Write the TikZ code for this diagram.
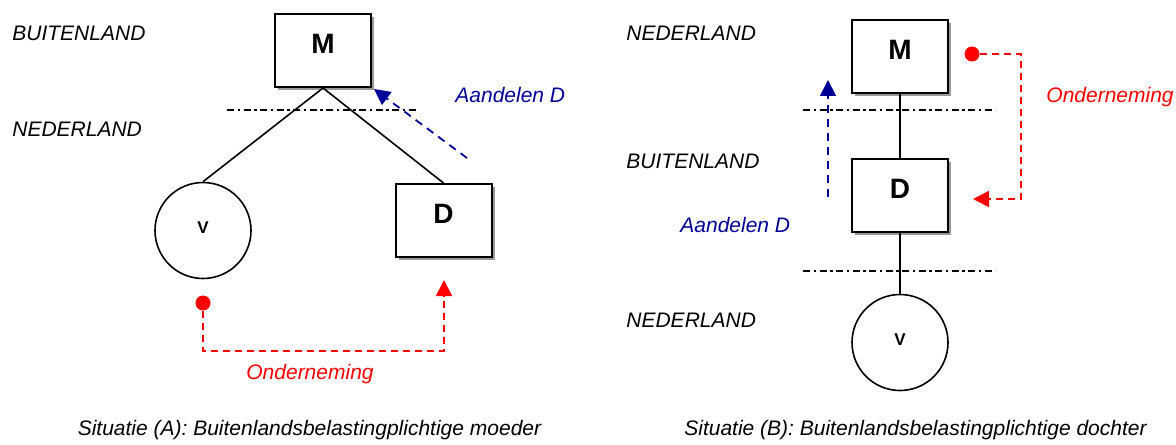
\documentclass[tikz,border=0pt]{standalone}
\usepackage{fontspec}
\setmainfont{Liberation Sans}
\usetikzlibrary{arrows.meta,shadows}
\definecolor{sharenavy}{RGB}{0,0,150}
\tikzset{
    entity/.style={draw, line width=1pt, fill=white, minimum width=48pt, inner sep=0pt,
        text height=19.75pt, text depth=16.75pt, anchor=north,
        font=\bfseries\fontsize{14}{14}\selectfont,
        drop shadow={shadow xshift=1.5pt, shadow yshift=-1.5pt, opacity=1, fill=black!40}},
    person/.style={draw, circle, line width=0.8pt, minimum size=48pt, inner sep=0pt,
        text height=6pt, text depth=3.5pt, font=\bfseries\fontsize{8.5}{8.5}\selectfont},
    region/.style={anchor=base west, inner sep=0pt, font=\itshape\fontsize{10.5}{12}\selectfont},
    caption/.style={anchor=base, inner sep=0pt, font=\itshape\fontsize{10.5}{12}\selectfont},
    border/.style={line width=1.25pt, dash pattern=on 3.5pt off 1.75pt on 1.25pt off 1.75pt},
    link/.style={line width=0.8pt},
    flow/.style={red, line width=0.9pt, dash pattern=on 3.5pt off 2.5pt, -{Triangle[length=8pt,width=8pt]}},
    shares/.style={sharenavy, line width=0.9pt, dash pattern=on 4pt off 3pt, -{Triangle[length=8pt,width=8pt]}},
    origin/.style={circle, fill=red, minimum size=7.5pt, inner sep=0pt},
}
\begin{document}
\begin{tikzpicture}[x=0.5pt,y=-0.5pt]
    \useasboundingbox (0,0) rectangle (1176,444);

    % situatie (A)
    \node[region] (buitenA) at (12,41) {BUITENLAND};
    \node[region] (nederA) at (12,136) {NEDERLAND};
    \draw[border] (227,110) coordinate (grensA1) -- (418,110) coordinate (grensA2);
    \node[entity] (mA) at (323,13) {M};
    \node[entity] (dA) at (443.5,183) {D};
    \node[person] (vA) at (203,230.5) {V};
    \draw[link] (mA.south) -- (vA.north);
    \draw[link] (mA.south) -- (dA.north);
    \node[region, text=sharenavy] (aandA) at (455,103) {Aandelen D};
    \coordinate (staartA) at (467,158);
    \draw[shares] (staartA) -- ([shift={(2,1)}]mA.south east);
    \node[origin] (puntA) at (203,303) {};
    \coordinate (hoekA) at (444,351);
    \coordinate (pijlA) at (444,280);
    \draw[flow] (puntA) |- (hoekA) -- (pijlA);
    \node[caption, text=red] (ondA) at (310,379) {Onderneming};
    \node[caption] (sitA) at (309.5,435) {Situatie (A): Buitenlandsbelastingplichtige moeder};

    % situatie (B)
    \node[region] (nederB1) at (626,41) {NEDERLAND};
    \node[region] (buitenB) at (626,168) {BUITENLAND};
    \node[region] (nederB2) at (626,327) {NEDERLAND};
    \draw[border] (803,110) coordinate (grensB1) -- (995,110) coordinate (grensB2);
    \draw[border] (803,271) coordinate (grensB3) -- (995,271) coordinate (grensB4);
    \node[entity] (mB) at (900,19) {M};
    \node[entity] (dB) at (900,158) {D};
    \node[person] (vB) at (900,342.5) {V};
    \draw[link] (mB.south) -- (dB.north);
    \draw[link] (dB.south) -- (vB.north);
    \node[region, text=sharenavy] (aandB) at (680,232) {Aandelen D};
    \coordinate (staartB) at (828,197);
    \coordinate (kopB) at (828,80);
    \draw[shares] (staartB) -- (kopB);
    \node[origin] (puntB) at (972,54) {};
    \coordinate (hoekB) at (1021,199);
    \coordinate (pijlB) at (973,199);
    \draw[flow] (puntB) -| (hoekB) -- (pijlB);
    \node[region, text=red] (ondB) at (1046,103) {Onderneming};
    \node[caption] (sitB) at (915.5,435) {Situatie (B): Buitenlandsbelastingplichtige dochter};
\end{tikzpicture}
\end{document}
